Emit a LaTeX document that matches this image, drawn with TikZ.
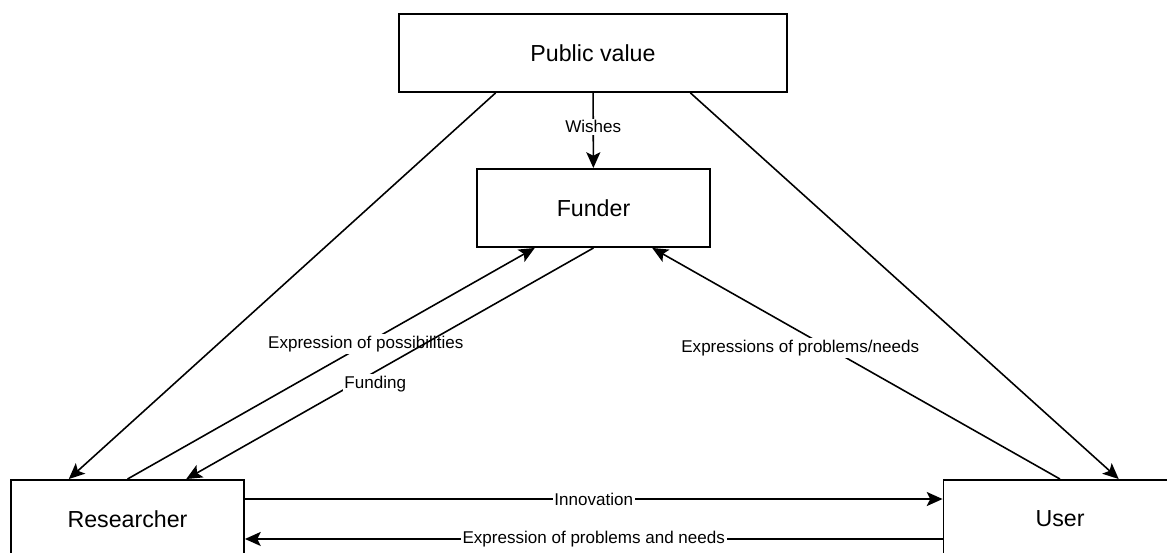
\documentclass[tikz,border=0pt]{standalone}
\usepackage{fontspec}
\setmainfont{Liberation Sans}
\usetikzlibrary{calc,arrows.meta}
\tikzset{
  box/.style={draw, line width=1.1pt, minimum width=4.66cm, minimum height=1.56cm,
    inner sep=0pt, font=\fontsize{13.2}{16}\selectfont},
  link/.style={line width=0.9pt},
  lab/.style={fill=white, inner sep=1pt, font=\fontsize{9.7}{12}\selectfont}
}
\begin{document}
\begin{tikzpicture}[x=0.02cm, y=-0.02cm, >={Stealth[length=9pt,width=8pt,inset=2pt]}]
    \useasboundingbox (0,0) rectangle (1167,553);
    \clip (0,0) rectangle (1167,553);
    % the four actors
    \node[box, minimum width=7.76cm] (pub) at (593,53) {Public value};
    \node[box] (fund) at (593.5,208) {Funder};
    \node[box] (res) at (127.5,519) {Researcher};
    \node[box] (user) at (1060,519) {User};
    % public value outwards
    \draw[link,->] (pub) -- node[lab, pos=0.45] {Wishes} (fund);
    \draw[link,->] ($(pub.south west)!0.25!(pub.south east)$) -- ($(res.north west)!0.25!(res.north east)$);
    \draw[link,->] ($(pub.south west)!0.75!(pub.south east)$) -- ($(user.north west)!0.75!(user.north east)$);
    % to and from the funder
    \draw[link,->] (res.north) -- node[lab, pos=0.585] {Expression of possibilities} ($(fund.south west)!0.25!(fund.south east)$);
    \draw[link,->] (fund.south) -- node[lab, pos=0.536, yshift=-0.24cm] {Funding} ($(res.north west)!0.75!(res.north east)$);
    \draw[link,->] (user.north) -- node[lab, pos=0.637, yshift=-0.32cm] {Expressions of problems/needs} ($(fund.south west)!0.75!(fund.south east)$);
    % researcher and user
    \draw[link,->] ($(res.north east)!0.25!(res.south east)$) -- node[lab] {Innovation} ($(user.north west)!0.25!(user.south west)$);
    \draw[link,->] ($(user.north west)!0.75!(user.south west)$) -- node[lab] {Expression of problems and needs} ($(res.north east)!0.75!(res.south east)$);
\end{tikzpicture}
\end{document}
